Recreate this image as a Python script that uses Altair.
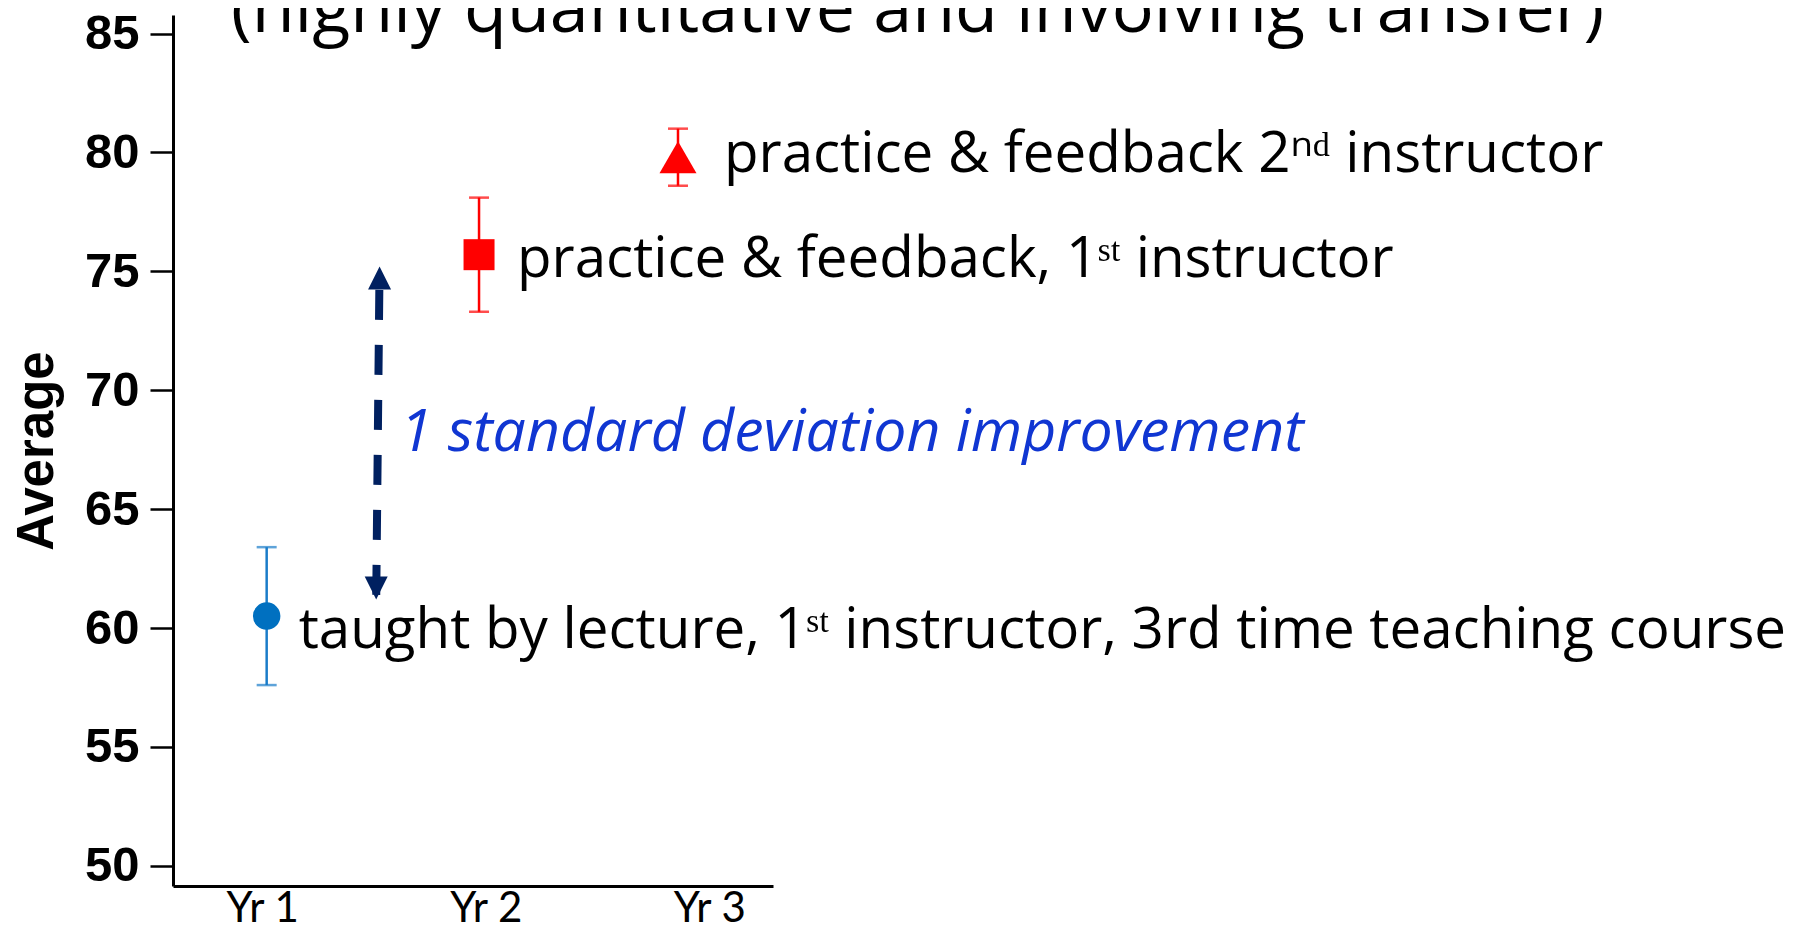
import altair as alt
import pandas as pd

# ---- data ----
groups = ["lecture", "practice1", "practice2"]
x_pos = [1.02, 1.97, 2.86]
means = [60.5, 75.7, 79.8]
errs = [2.9, 2.4, 1.2]
labels = [
    "taught by lecture, 1\u02e2\u1d57 instructor, 3rd time teaching course",
    "practice & feedback, 1\u02e2\u1d57 instructor",
    "practice & feedback 2\u207f\u1d48 instructor",
]
year_ticks = [1, 2, 3]
year_labels = ["Yr 1", "Yr 2", "Yr 3"]
y_ticks = [50, 55, 60, 65, 70, 75, 80, 85]
arrow_x = [1.51, 1.525]        # bottom tip, top tip
arrow_y = [61.2, 75.2]         # bottom tip, top tip
arrow_text = "1 standard deviation improvement"
title_text = "(highly quantitative and involving transfer)"
y_title = "Average"

FONT = "Open Sans"

# ---- tables ----
df = pd.DataFrame({"group": groups, "x": x_pos, "mean": means, "err": errs, "label": labels})
df["lo"] = df["mean"] - df["err"]
df["hi"] = df["mean"] + df["err"]

arrow_df = pd.DataFrame({
    "xb": [arrow_x[0]], "xt": [arrow_x[1]],
    "yb": [arrow_y[0]], "yt": [arrow_y[1]],
    "xm": [sum(arrow_x) / 2], "ym": [sum(arrow_y) / 2],
    "txt": [arrow_text],
})
title_df = pd.DataFrame({"t": [title_text]})

label_map = "[" + ",".join("'" + s + "'" for s in year_labels) + "]"

xscale = alt.Scale(domain=[0.601, 3.285], nice=False, zero=False)
yscale = alt.Scale(domain=[49.15, 85.78], nice=False, zero=False)

xaxis = alt.Axis(
    values=year_ticks, labelExpr=label_map + "[datum.value - 1]", title=None,
    ticks=False, grid=False, domainColor="black", domainWidth=3,
    labelFont="Lato", labelFontSize=42, labelColor="black",
    labelBaseline="alphabetic", labelPadding=35,
    labelFlush=False, labelOverlap=False,
)
yaxis = alt.Axis(
    values=y_ticks, title=y_title, grid=False, domainColor="black", domainWidth=3,
    tickColor="black", tickWidth=2.5, tickSize=23,
    labelFont="Liberation Sans", labelFontWeight="bold", labelFontSize=49,
    labelColor="black", labelPadding=11,
    titleFont="Liberation Sans", titleFontWeight="bold", titleFontSize=51,
    titleColor="black", titlePadding=21,
)


def X(field):
    return alt.X(field, type="quantitative", scale=xscale, axis=xaxis)


def Y(field):
    return alt.Y(field, type="quantitative", scale=yscale, axis=yaxis)


styles = {
    "lecture": dict(color="#0070C0", bar="#1a7cc9", shape="circle", size=755, dx=32, dy=32),
    "practice1": dict(color="#FF0000", bar="#FF0000", shape="square", size=961, dx=38, dy=22),
    "practice2": dict(color="#FF0000", bar="#FF0000", shape="triangle-up", size=1369, dx=46, dy=15),
}

layers = []
for g in groups:
    st = styles[g]
    base = alt.Chart(df).transform_filter(alt.datum.group == g)
    layers.append(base.mark_rule(color=st["bar"], strokeWidth=2.5).encode(
        x=X("x"), y=Y("lo"), y2="hi:Q"))
    for f in ["lo", "hi"]:
        layers.append(base.mark_tick(orient="horizontal", color=st["bar"], size=20, thickness=2.5).encode(
            x=X("x"), y=Y(f)))
    layers.append(base.mark_point(shape=st["shape"], size=st["size"], filled=True,
                                  color=st["color"], opacity=1, strokeWidth=0).encode(
        x=X("x"), y=Y("mean")))
    layers.append(base.mark_text(align="left", baseline="alphabetic", dx=st["dx"], dy=st["dy"],
                                 font=FONT, fontSize=56.5, color="black").encode(
        x=X("x"), y=Y("mean"), text="label:N"))

navy = "#002060"
abase = alt.Chart(arrow_df)
layers.append(abase.mark_rule(color=navy, strokeWidth=8, strokeDash=[30, 25], strokeDashOffset=31.7).encode(
    x=X("xt"), y=Y("yt"), x2="xb:Q", y2="yb:Q"))
layers.append(abase.mark_point(shape="M0,0L1,2L-1,2Z", size=529, filled=True, color=navy,
                               opacity=1, strokeWidth=0).encode(x=X("xt"), y=Y("yt")))
layers.append(abase.mark_point(shape="M0,0L1,-2L-1,-2Z", size=529, filled=True, color=navy,
                               opacity=1, strokeWidth=0).encode(x=X("xb"), y=Y("yb")))
layers.append(abase.mark_text(align="left", baseline="alphabetic", dx=22, dy=18, font=FONT,
                              fontSize=59, fontStyle="italic", color="#1036D2").encode(
    x=X("xm"), y=Y("ym"), text="txt:N"))

# slide heading (partly cut by the top edge, as in the reference)
layers.append(alt.Chart(title_df).mark_text(align="left", baseline="alphabetic", font=FONT,
                                            fontSize=70, color="black").encode(
    x=alt.value(58), y=alt.value(17), text="t:N"))

chart = alt.layer(*layers).properties(
    width=600, height=871,
    autosize=alt.AutoSizeParams(type="none"),
    padding={"left": 165, "top": 7, "right": 1015, "bottom": 45},
).configure(background="white").configure_view(stroke=None)

chart.save("out.html", embed_options={"renderer": "svg", "actions": False})
